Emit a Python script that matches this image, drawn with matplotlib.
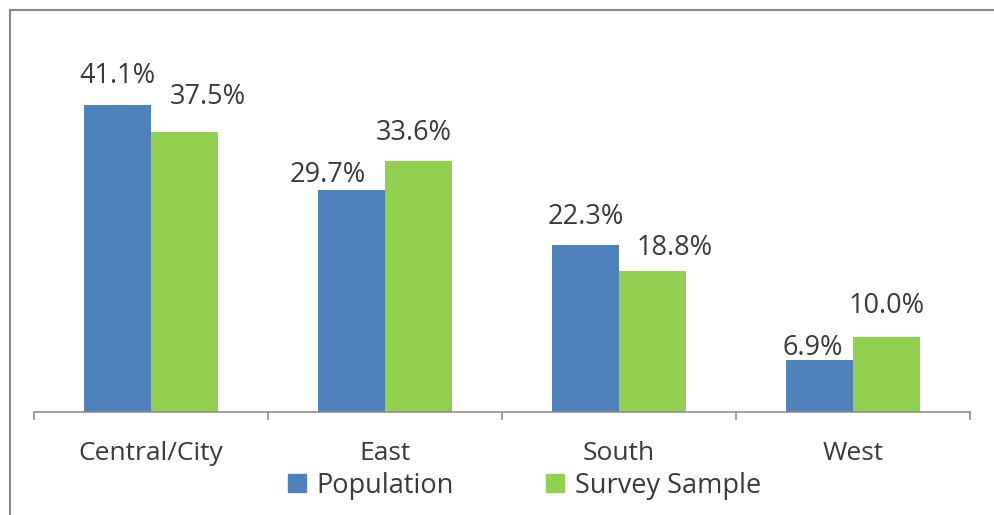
import matplotlib.pyplot as plt
import numpy as np
from matplotlib.patches import Patch
from matplotlib.lines import Line2D

# data
regions = ['Central/City', 'East', 'South', 'West']
population = [41.1, 29.7, 22.3, 6.9]
survey_sample = [37.5, 33.6, 18.8, 10.0]

# label nudges (pixels) so labels don't collide, like Excel does
pop_nudge = [(0, 22), (-24, 8), (0, 21), (-7, 5)]
samp_nudge = [(23, 28), (-5, 21), (22, 16), (0, 24)]

blue = '#4F81BD'
green = '#92D050'
txt = '#3a3a3a'
grey = '#878787'

plt.rcParams['font.family'] = ['Open Sans', 'DejaVu Sans']

fig = plt.figure(figsize=(9.95, 5.15), dpi=100)
ax = fig.add_axes([34 / 995, 103 / 515, 936 / 995, 374 / 515])

x = np.arange(len(regions))
w = 0.286
b1 = ax.bar(x - w / 2, population, w, color=blue)
b2 = ax.bar(x + w / 2, survey_sample, w, color=green)

px = 0.72  # pixels -> points at 100 dpi
for bars, vals, nudges in [(b1, population, pop_nudge), (b2, survey_sample, samp_nudge)]:
    for bar, v, (dx, dy) in zip(bars, vals, nudges):
        ax.annotate(f'{v:.1f}%', (bar.get_x() + bar.get_width() / 2, v),
                    xytext=(dx * px, dy * px), textcoords='offset points',
                    ha='center', va='baseline', fontsize=19.5, color=txt)

ax.set_xlim(-0.5, len(regions) - 0.5)
ax.set_ylim(0, 50)
ax.set_yticks([])
for s in ['top', 'right', 'left']:
    ax.spines[s].set_visible(False)
ax.spines['bottom'].set_color(grey)
ax.spines['bottom'].set_linewidth(1.1)

# category boundary ticks, labels in the middle
ax.set_xticks(np.arange(len(regions) + 1) - 0.5)
ax.set_xticklabels([])
ax.tick_params(axis='x', direction='out', length=6, width=1.1, color=grey)
for i, r in enumerate(regions):
    ax.annotate(r, (i, 0), xytext=(0, -48 * px), textcoords='offset points',
                ha='center', va='baseline', fontsize=19, color=txt)

handles = [Patch(color=blue, label='Population'), Patch(color=green, label='Survey Sample')]
fig.legend(handles=handles, loc='center', bbox_to_anchor=(0.527, 0.057), ncol=2,
           frameon=False, fontsize=19.5, labelcolor=txt, handlelength=0.67,
           handleheight=0.67, handletextpad=0.4, columnspacing=3.4)

# chart area border (only left and top visible in the crop)
fig.add_artist(Line2D([10 / 995, 10 / 995], [0, 1 - 10 / 515], color=grey, lw=1.5,
                      transform=fig.transFigure))
fig.add_artist(Line2D([10 / 995, 1], [1 - 10 / 515, 1 - 10 / 515], color=grey, lw=1.5,
                      transform=fig.transFigure))

plt.savefig('out.png', dpi=100)
